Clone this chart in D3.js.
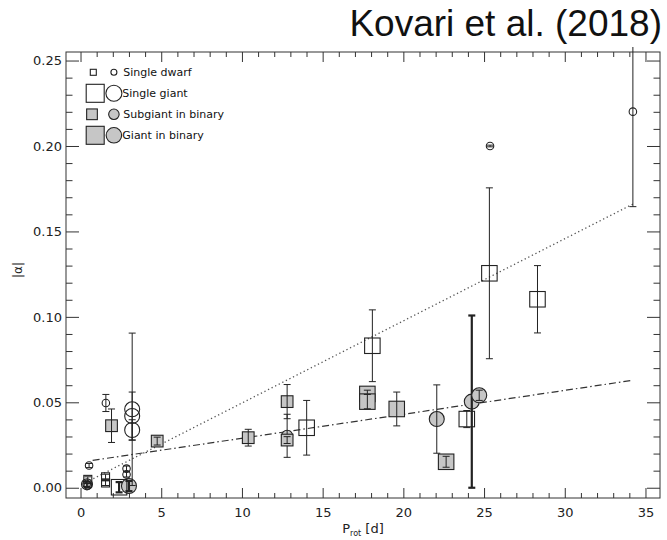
<!DOCTYPE html>
<html>
<head>
<meta charset="utf-8">
<script src="https://cdn.jsdelivr.net/npm/d3@7"></script>
<style>
  html, body { margin: 0; padding: 0; background: #fff; }
  svg { display: block; }
  .tick-label { font-family: "DejaVu Sans", sans-serif; font-size: 13px; fill: #222; }
</style>
</head>
<body>
<svg id="chart" width="667" height="540"></svg>
<script>
// ---- data: [P_rot (d), |alpha|, error] ; optional 4th value = upper error when asymmetric
const singleDwarfSquares = [
  [0.45, 0.0049, 0.0015],
  [1.55, 0.0064, 0.0015],
  [1.55, 0.0028, 0.0015]
];
const singleDwarfCircles = [
  [0.53, 0.0130, 0.0012],
  [0.38, 0.0022, 0.0015],
  [0.45, 0.0014, 0.0012],
  [1.57, 0.0496, 0.0050],
  [2.85, 0.0112, 0.0015],
  [2.85, 0.0078, 0.0015],
  [25.37, 0.2000, 0.0005],
  [34.22, 0.2201, 0.0556, 0.0380]
];
const singleGiantSquares = [
  [2.39, 0.0003, 0.0030],
  [14.01, 0.0351, 0.0160],
  [18.08, 0.0831, 0.0210],
  [23.93, 0.0402, 0.0050],
  [25.33, 0.1255, 0.0500],
  [28.31, 0.1103, 0.0197]
];
const singleGiantCircles = [
  [3.20, 0.0459, 0.0446],
  [3.20, 0.0420, 0.0140],
  [3.20, 0.0338, 0.0060]
];
const subgiantBinarySquares = [
  [1.92, 0.0363, 0.0098],
  [4.75, 0.0273, 0.0023],
  [10.39, 0.0293, 0.0049],
  [12.80, 0.0504, 0.0100],
  [12.80, 0.0279, 0.0020]
];
const subgiantBinaryCircles = [
  [0.40, 0.0020, 0.0015],
  [12.80, 0.0304, 0.0126]
];
const giantBinarySquares = [
  [17.77, 0.0549, 0.0022],
  [17.77, 0.0504, 0.0042],
  [19.59, 0.0461, 0.0099],
  [22.65, 0.0152, 0.0032]
];
const giantBinaryCircles = [
  [3.00, 0.0010, 0.0030],
  [22.07, 0.0402, 0.0200],
  [24.24, 0.0504, 0.0504],
  [24.70, 0.0541, 0.0030]
];
// linear relations drawn over the data: [[P0, a0], [P1, a1]]
const dottedFit = [[0.35, 0.0032], [34.22, 0.1660]];
const dashDotFit = [[0.75, 0.0160], [34.22, 0.0629]];

const legendLabels = ["Single dwarf", "Single giant", "Subgiant in binary", "Giant in binary"];
const xMajorTicks = [0, 5, 10, 15, 20, 25, 30, 35];
const yMajorTicks = [0.00, 0.05, 0.10, 0.15, 0.20, 0.25];
const titleText = "Kovari et al. (2018)";

// ---- layout
const svg = d3.select("#chart");
const plot = { left: 66, right: 660, top: 52, bottom: 498 };
const x = d3.scaleLinear().domain([-0.9, 35.9]).range([plot.left, plot.right]);
const y = d3.scaleLinear().domain([-0.006, 0.255]).range([plot.bottom, plot.top]);

const GRAY = "#c6c6c6";
const INK = "#222";

// title
svg.append("text")
  .attr("x", 662).attr("y", 36)
  .attr("text-anchor", "end")
  .attr("font-family", "Liberation Sans, Arial, sans-serif")
  .attr("font-size", 37)
  .attr("fill", "#111")
  .text(titleText);

// ---- axes (ticks on all four sides, pointing inward)
const xMinor = d3.range(0, 36, 1).filter(v => v % 5 !== 0);
const yMinor = d3.range(0, 26, 1).map(v => v / 100).filter((v, i) => i % 5 !== 0);

function styleAxis(g) {
  g.select(".domain").remove();
  g.selectAll("line").attr("stroke", "#333").attr("stroke-width", 1);
  g.selectAll("text").attr("class", "tick-label").attr("font-family", null).attr("font-size", null).attr("fill", null);
}

svg.append("g").attr("transform", `translate(0,${plot.bottom})`)
  .call(d3.axisBottom(x).tickValues(xMajorTicks).tickSize(-10).tickPadding(10).tickFormat(d3.format("d")))
  .call(styleAxis);
svg.append("g").attr("transform", `translate(0,${plot.bottom})`)
  .call(d3.axisBottom(x).tickValues(xMinor).tickSize(-5).tickFormat(""))
  .call(styleAxis);
svg.append("g").attr("transform", `translate(0,${plot.top})`)
  .call(d3.axisTop(x).tickValues(xMajorTicks).tickSize(-10).tickFormat(""))
  .call(styleAxis);
svg.append("g").attr("transform", `translate(0,${plot.top})`)
  .call(d3.axisTop(x).tickValues(xMinor).tickSize(-5).tickFormat(""))
  .call(styleAxis);

svg.append("g").attr("transform", `translate(${plot.left},0)`)
  .call(d3.axisLeft(y).tickValues(yMajorTicks).tickSize(-13).tickPadding(4).tickFormat(d3.format(".2f")))
  .call(styleAxis);
svg.append("g").attr("transform", `translate(${plot.left},0)`)
  .call(d3.axisLeft(y).tickValues(yMinor).tickSize(-6.5).tickFormat(""))
  .call(styleAxis);
svg.append("g").attr("transform", `translate(${plot.right},0)`)
  .call(d3.axisRight(y).tickValues(yMajorTicks).tickSize(-13).tickFormat(""))
  .call(styleAxis);
svg.append("g").attr("transform", `translate(${plot.right},0)`)
  .call(d3.axisRight(y).tickValues(yMinor).tickSize(-6.5).tickFormat(""))
  .call(styleAxis);

// frame
svg.append("rect")
  .attr("x", plot.left).attr("y", plot.top)
  .attr("width", plot.right - plot.left).attr("height", plot.bottom - plot.top)
  .attr("fill", "none").attr("stroke", "#333").attr("stroke-width", 1);

// axis titles
const xt = svg.append("text")
  .attr("x", 363).attr("y", 533)
  .attr("text-anchor", "middle")
  .attr("font-family", "DejaVu Sans, sans-serif")
  .attr("font-size", 13).attr("fill", "#222");
xt.append("tspan").text("P");
xt.append("tspan").attr("font-size", 8).attr("dy", 3).text("rot");
xt.append("tspan").attr("dy", -3).text(" [d]");

svg.append("text")
  .attr("transform", "translate(22,270) rotate(-90)")
  .attr("text-anchor", "middle")
  .attr("font-family", "DejaVu Sans, sans-serif")
  .attr("font-size", 12).attr("fill", "#222")
  .text("|α|");

// ---- fit lines
const line = d3.line().x(d => x(d[0])).y(d => y(d[1]));
svg.append("path").attr("d", line(dottedFit))
  .attr("fill", "none").attr("stroke", "#555").attr("stroke-width", 1.3)
  .attr("stroke-dasharray", "1.3 2.7");
svg.append("path").attr("d", line(dashDotFit))
  .attr("fill", "none").attr("stroke", "#333").attr("stroke-width", 1.2)
  .attr("stroke-dasharray", "7 3 1.5 3");

// ---- points with error bars
const layer = svg.append("g");

function drawSeries(data, shape, size, fill) {
  const g = layer.append("g");
  data.forEach(d => {
    const [p, a, lo, hiOpt] = d;
    const hi = hiOpt === undefined ? lo : hiOpt;
    const cx = x(p), cy = y(a);
    // symbol first, error bar drawn over it
    if (shape === "square") {
      g.append("rect")
        .attr("x", cx - size / 2).attr("y", cy - size / 2)
        .attr("width", size).attr("height", size)
        .attr("fill", fill).attr("stroke", INK).attr("stroke-width", 1.1);
    } else {
      g.append("circle")
        .attr("cx", cx).attr("cy", cy).attr("r", size / 2)
        .attr("fill", fill).attr("stroke", INK).attr("stroke-width", 1.1);
    }
    const reachesZero = lo >= a;
    const yTop = Math.max(y(a + hi), 47);
    const yBot = y(a - lo);
    const w = reachesZero ? 2.2 : 1;
    g.append("line")
      .attr("x1", cx).attr("x2", cx).attr("y1", yTop).attr("y2", yBot)
      .attr("stroke", INK).attr("stroke-width", w);
    [y(a + hi), yBot].forEach(yy => {
      if (yy < plot.top) return;
      g.append("line")
        .attr("x1", cx - 3.5).attr("x2", cx + 3.5).attr("y1", yy).attr("y2", yy)
        .attr("stroke", INK).attr("stroke-width", w);
    });
  });
}

drawSeries(giantBinaryCircles, "circle", 15, GRAY);
drawSeries(subgiantBinaryCircles, "circle", 11, GRAY);
drawSeries(singleGiantSquares, "square", 15.5, "none");
drawSeries(singleGiantCircles, "circle", 15, "none");
drawSeries(subgiantBinarySquares, "square", 11.7, GRAY);
drawSeries(giantBinarySquares, "square", 15.5, GRAY);
drawSeries(singleDwarfSquares, "square", 8, "none");
drawSeries(singleDwarfCircles, "circle", 7.5, "none");

// ---- legend
const legendSym = [
  { sq: 6, ci: 6, fill: "none", sqx: 93.3 },
  { sq: 18, ci: 16, fill: "none", sqx: 95.2 },
  { sq: 10.7, ci: 10.5, fill: GRAY, sqx: 92 },
  { sq: 18, ci: 15.5, fill: GRAY, sqx: 95.2 }
];
const legend = svg.append("g");
legendLabels.forEach((label, i) => {
  const cy = 72.3 + i * 21;
  const s = legendSym[i];
  legend.append("rect")
    .attr("x", s.sqx - s.sq / 2).attr("y", cy - s.sq / 2)
    .attr("width", s.sq).attr("height", s.sq)
    .attr("fill", s.fill).attr("stroke", INK).attr("stroke-width", 1.1);
  legend.append("circle")
    .attr("cx", 113.9).attr("cy", cy).attr("r", s.ci / 2)
    .attr("fill", s.fill).attr("stroke", INK).attr("stroke-width", 1.1);
  legend.append("text")
    .attr("x", i % 2 === 0 ? 123.3 : 122.3).attr("y", cy + 4)
    .attr("font-family", "DejaVu Sans, sans-serif")
    .attr("font-size", 11).attr("fill", "#111")
    .text(label);
});
</script>
</body>
</html>
